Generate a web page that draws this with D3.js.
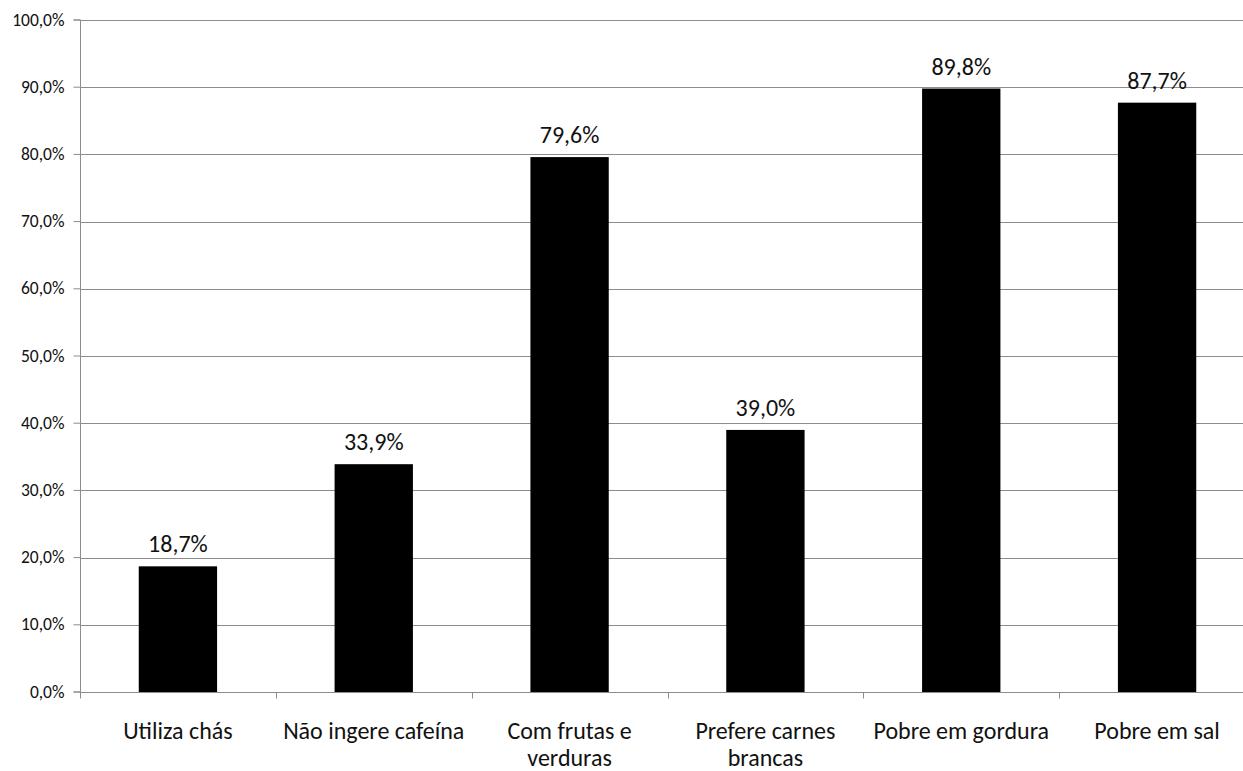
<!DOCTYPE html>
<html>
<head>
<meta charset="utf-8">
<script src="https://cdn.jsdelivr.net/npm/d3@7"></script>
<style>
  html, body { margin: 0; padding: 0; background: #fff; }
  svg { display: block; }
  text { font-family: Carlito, "Open Sans", Lato, sans-serif; fill: #111; }
</style>
</head>
<body>
<svg id="chart" width="1243" height="771"></svg>
<script>
// Hábitos alimentares: percentual de respostas por categoria
const categories = [
  "Utiliza chás",
  "Não ingere cafeína",
  "Com frutas e\nverduras",
  "Prefere carnes\nbrancas",
  "Pobre em gordura",
  "Pobre em sal"
];
const values = [0.187, 0.339, 0.796, 0.390, 0.898, 0.877];
const yTicks = [0, 0.1, 0.2, 0.3, 0.4, 0.5, 0.6, 0.7, 0.8, 0.9, 1.0];

const width = 1243, height = 771;
const margin = { left: 80, top: 20, bottom: 79 };
const plotRight = 1255;
const fontStack = "Carlito, 'Open Sans', Lato, sans-serif";

const svg = d3.select("#chart");

const ptBR = d3.formatLocale({ decimal: ",", thousands: ".", grouping: [3], currency: ["R$", ""] });
const fmtTick = ptBR.format(".1%");

const x = d3.scaleBand()
  .domain(categories)
  .range([margin.left, plotRight])
  .paddingInner(0.6)
  .paddingOuter(0.3);

const y = d3.scaleLinear()
  .domain([0, 1])
  .range([height - margin.bottom, margin.top]);

const gridColor = "#8c8c8c";

// horizontal gridlines
svg.append("g")
  .selectAll("line")
  .data(yTicks.filter(d => d > 0))
  .join("line")
  .attr("x1", margin.left)
  .attr("x2", plotRight)
  .attr("y1", d => Math.round(y(d)) + 0.5)
  .attr("y2", d => Math.round(y(d)) + 0.5)
  .attr("stroke", gridColor)
  .attr("stroke-width", 1);

// y axis
const yAxis = svg.append("g")
  .attr("transform", `translate(${margin.left + 0.5},0)`)
  .call(d3.axisLeft(y).tickValues(yTicks).tickFormat(fmtTick).tickSize(7).tickPadding(9).offset(0));
yAxis.selectAll("path, line").attr("stroke", gridColor);
yAxis.selectAll("text")
  .attr("font-size", 17.5)
  .attr("font-family", fontStack)
  .attr("fill", "#222");

// bars
svg.append("g")
  .selectAll("rect")
  .data(categories.map((c, i) => ({ c, v: values[i] })))
  .join("rect")
  .attr("x", d => x(d.c))
  .attr("width", x.bandwidth())
  .attr("y", d => y(d.v))
  .attr("height", d => y(0) - y(d.v))
  .attr("fill", "#000");

// x axis baseline and category ticks
const x0 = Math.round(y(0)) + 0.5;
svg.append("line")
  .attr("x1", margin.left).attr("x2", plotRight)
  .attr("y1", x0).attr("y2", x0)
  .attr("stroke", gridColor);

const step = x.step();
const boundaries = d3.range(categories.length + 1).map(i => margin.left + i * step);
svg.append("g")
  .selectAll("line")
  .data(boundaries)
  .join("line")
  .attr("x1", d => Math.round(d) + 0.5)
  .attr("x2", d => Math.round(d) + 0.5)
  .attr("y1", x0)
  .attr("y2", x0 + 6)
  .attr("stroke", gridColor);

// category labels (two-line labels continue just above the bottom edge)
const catLabels = svg.append("g")
  .selectAll("text")
  .data(categories)
  .join("text")
  .attr("text-anchor", "middle")
  .attr("font-size", 24)
  .attr("x", d => x(d) + x.bandwidth() / 2)
  .attr("y", 739);
catLabels.selectAll("tspan")
  .data(d => d.split("\n"))
  .join("tspan")
  .attr("x", function () { return d3.select(this.parentNode).attr("x"); })
  .attr("dy", (d, i) => i === 0 ? 0 : 27)
  .text(d => d);

// value labels
svg.append("g")
  .selectAll("text")
  .data(categories.map((c, i) => ({ c, v: values[i] })))
  .join("text")
  .attr("text-anchor", "middle")
  .attr("font-size", 24)
  .attr("x", d => x(d.c) + x.bandwidth() / 2)
  .attr("y", d => y(d.v) - 14)
  .text(d => fmtTick(d.v));
</script>
</body>
</html>
